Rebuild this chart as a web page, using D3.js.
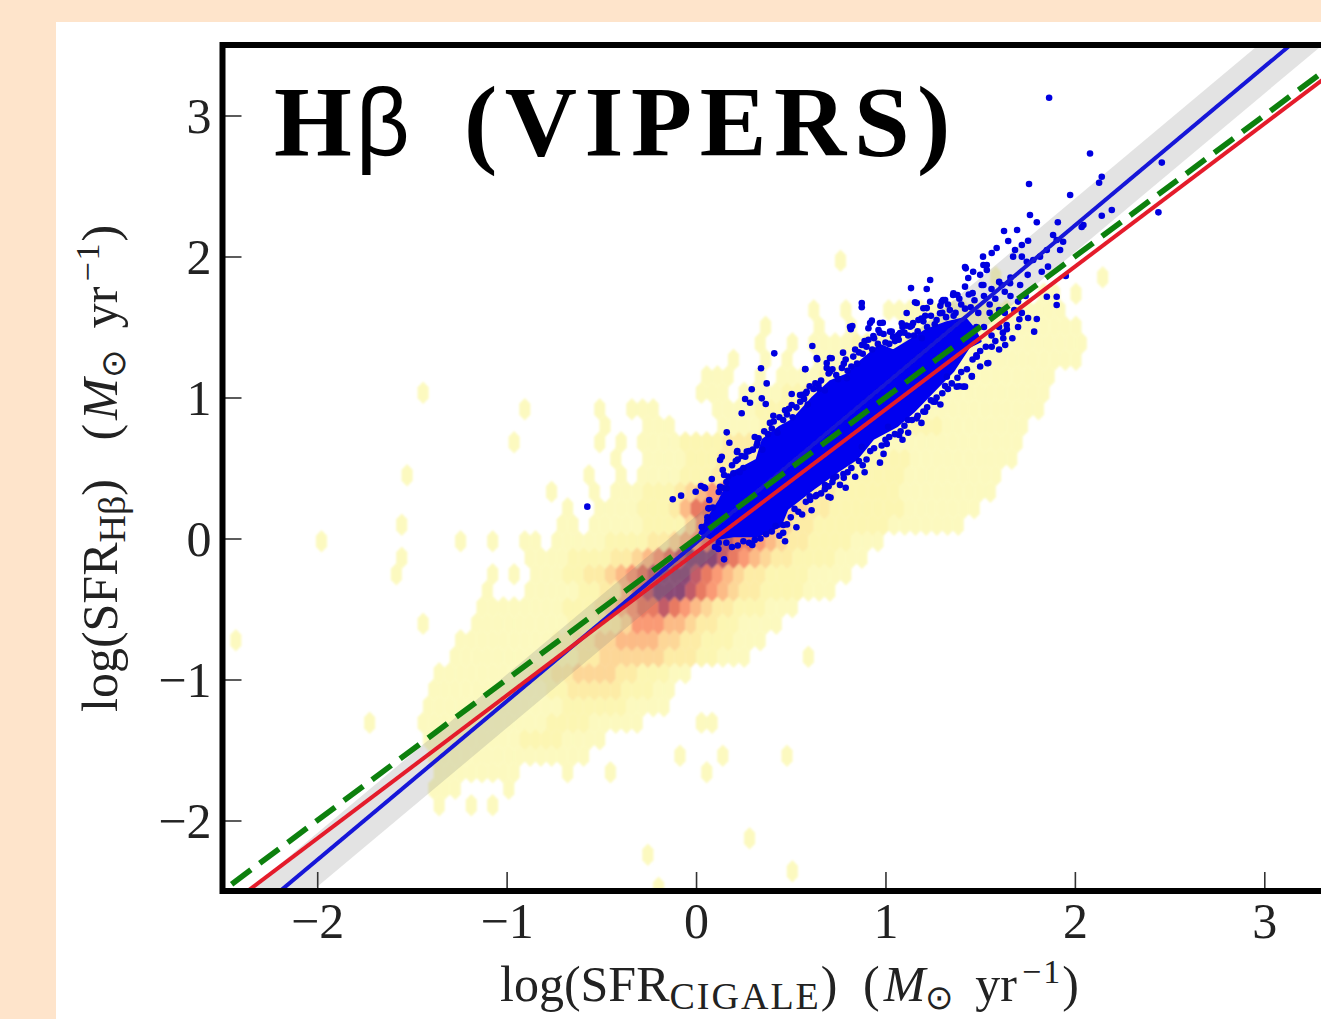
<!DOCTYPE html>
<html><head><meta charset="utf-8">
<script src="https://cdn.jsdelivr.net/npm/d3@7"></script>
<style>
html,body{margin:0;padding:0;background:#fee4cb;overflow:hidden;width:1321px;height:1019px}
svg{display:block}
text{font-family:"Liberation Serif",serif;fill:#222}
</style></head><body>
<svg id="c" width="1321" height="1019"></svg>
<script>
// ---- data (log SFR units) ----
const xTicks=[-2,-1,0,1,2,3];
const yTicks=[-2,-1,0,1,2,3];
const domainLimits=[-2.5,3.5];
const titleMain="H", titleGreek="β", titleRest="(VIPERS)";
// hexbin lattice steps in data units
const hexStepX=0.0565, hexStepY=0.117, hexOriginY=-0.02;
// density classes per hexagon: [row, first column, class per cell]
const hexRows=[
[-21,-4,"1"],[-20,9,"1"],[-19,-5,"1"],[-18,5,"1"],
[-16,-24,"1"],[-16,-21,"1"],[-16,-19,"1"],
[-15,-25,"11"],[-15,-23,"1"],[-15,-18,"1"],
[-14,-24,"11111111"],[-14,-12,"1"],[-14,-8,"1"],[-14,1,"1"],
[-13,-25,"111111111111111"],[-13,-2,"1"],[-13,2,"1"],[-13,8,"1"],
[-12,-25,"11111111122221111"],
[-11,-26,"111111111111222211111"],[-11,-31,"1"],[-11,0,"11"],
[-10,-25,"11111111111112222221111"],
[-9,-25,"11111111111223333322211"],
[-8,-24,"111111111223344443322211"],
[-7,-23,"1111111111223344444433322111"],[-7,10,"1"],
[-6,-22,"11111111122334455554433222111"],[-6,-43,"1"],
[-5,-21,"1111111112223346665543322111"],[-5,-26,"1"],[-5,7,"1"],
[-4,-20,"111111112223456778765433222111"],
[-3,-20,"1"],[-3,-16,"11111223357899987654332222111"],
[-2,-19,"1"],[-2,-17,"1"],[-2,-28,"1"],[-2,-15,"111223345678999876543322221111"],
[-1,-28,"1"],[-1,-16,"11112222334567899987654332222111"],
[0,-35,"1"],[0,-22,"1"],[0,-19,"1"],[0,-16,"1"],[0,-15,"1"],[0,-13,"1111122223345678877654332222111"],
[1,-28,"1"],[1,-13,"11"],[1,-10,"11111222246787776543322222221111111"],
[2,-12,"1"],[2,-9,"111122235776666655443322222221111111"],
[3,-14,"1"],[3,-10,"1"],[3,-8,"111222345665555443333222222111111111"],
[4,-27,"1"],[4,-10,"1"],[4,-7,"1"],[4,-5,"1111222333344443333222222111111111"],
[5,-8,"1"],[5,-5,"11112223333444433322222221111111111"],
[6,-17,"1"],[6,-9,"1"],[6,-7,"1"],[6,-5,"111122223333332222222211111111111111"],
[7,-9,"1"],[7,-5,"111"],[7,2,"11112222333332222222211111111"],
[8,-16,"1"],[8,-9,"1"],[8,-6,"111"],[8,2,"1111222333222222221111111111111"],
[9,-26,"1"],[9,0,"111"],[9,4,"11112233222222222111111111111"],
[10,1,"11"],[10,3,"1"],[10,6,"1"],[10,8,"11112222222222111111111111"],
[11,3,"1"],[11,6,"1"],[11,8,"1"],[11,11,"1111222222222111111111111"],
[12,6,"1"],[12,9,"1"],[12,11,"11112222222211111111111111"],
[13,6,"1"],[13,11,"1"],[13,14,"1"],[13,19,"11111111111111111"],
[14,11,"1"],[14,14,"1"],[14,18,"11111111111111111"],
[15,35,"1"],[15,32,"11"],[16,28,"1"],[16,38,"1"],[17,13,"1"]
];
const densityColours={1:"#fcf9bf",2:"#fcf6b2",3:"#fdeca6",4:"#fdd797",5:"#fcbb86",6:"#fa9a74",7:"#e87a62",8:"#c25b68",9:"#8a4876"};
// outline of the saturated core of the VIPERS points
const coreOutline=[[.037,.082],[.127,.273],[.195,.465],[.322,.557],[.354,.699],[.444,.791],[.512,.84],[.618,1.0],[.707,1.11],[.797,1.16],[.866,1.25],[.971,1.37],[1.04,1.33],[1.114,1.39],[1.22,1.48],[1.325,1.53],[1.42,1.56],[1.47,1.48],[1.5,1.40],[1.44,1.36],[1.357,1.19],[1.251,1.045],[1.146,.9],[1.061,.8],[.935,.71],[.85,.57],[.744,.475],[.618,.355],[.48,.21],[.444,.09],[.322,.02],[.195,.02],[.09,-.005],[.021,.039]];
const viperPoints=[
[1.864,3.126],[2.08,2.73],[2.459,2.666],[2.142,2.566],[2.128,2.523],[1.758,2.514],[1.975,2.436],[2.195,2.33],[2.142,2.289],[2.441,2.313],[1.763,2.294],[1.799,2.243],[1.91,2.243],[2.045,2.223],[2.036,2.209],[1.626,2.181],[1.695,2.188],[1.885,2.153],[1.904,2.117],[1.648,2.11],[1.753,2.112],[1.938,2.105],[1.72,2.082],[1.587,2.06],[1.684,2.046],[1.922,2.046],[1.852,2.046],[1.561,2.025],[1.674,1.999],[1.72,1.999],[1.816,1.999],[1.78,1.975],[1.746,1.963],[1.515,1.999],[1.535,1.94],[1.42,1.925],[1.463,1.892],[1.5,1.87],[1.825,1.892],[1.858,1.928],[1.751,1.87],[1.952,1.862],[1.614,1.798],[1.658,1.81],[1.711,1.798],[1.508,1.798],[1.437,1.848],[1.42,1.786],[1.236,1.833],[1.218,1.77],[1.135,1.776],[1.357,1.727],[.875,1.67],[.875,1.64],[1.852,1.715],[1.904,1.715],[1.904,1.656],[1.753,1.564],[1.799,1.557],[1.785,1.467],[1.64,1.514],[1.632,1.372],[1.543,1.245],[1.456,1.148],[1.41,1.077],[1.324,1.148],[1.253,.97],[.813,1.502],[.919,1.528],[.971,1.528],[.614,1.365],[.576,1.2],[.69,1.245],[.776,1.318],[.875,1.372],[1.112,1.599],[1.165,1.67],[1.304,1.691],[1.218,1.634],[1.024,1.467],[1.067,1.443],[1.146,1.528],[.637,1.28],[.707,1.28],
[.413,1.313],[.343,1.207],[.373,1.1],[.294,1.058],[.259,.989],[.285,.963],[.347,.994],[.368,.954],[.241,.888],[.408,.871],[.162,.753],[.176,.679],[.136,.58],[.127,.557],[.218,.62],[.268,.616],[.241,.585],[.324,.679],[.141,.486],[.148,.45],[.083,.422],[.042,.363],[.07,.273],[.065,.214],[.197,.462],[.577,1.202],[.64,1.271],[.716,1.278],[.817,1.484],[.825,1.507],[.928,1.545],[.91,1.491],[.986,1.53],[.963,1.479],[.936,1.436],[.883,1.372],[1.033,1.467],[1.077,1.457],[1.086,1.526],[1.156,1.675],[1.2,1.633],[1.236,1.679],[1.297,1.679],[1.315,1.691],[1.288,1.597],[1.359,1.739],[1.38,1.727],[1.424,1.916],[1.517,1.94],[1.535,1.904],[1.517,1.798],[1.174,1.55],[1.13,1.502],[1.192,1.42],[.505,1.025],[.505,.947],[.549,1.018],[.584,1.041],[.646,1.089],[.707,1.183],[.796,1.136],
[.699,.296],[.971,.538],[1.007,.67],[1.072,.734],[.84,.438],[.778,.457],[.725,.427],[.602,.273],[.637,.309],[.681,.379],[.461,.096],[.294,-.039],[1.165,.852],[1.209,.899],[1.262,.97],[1.376,1.077],[1.42,1.077],[1.315,1.081],[1.456,1.152],[1.538,1.243],[1.482,1.289],[1.561,1.36],[1.622,1.42],[1.707,1.555],[1.641,1.484],[.875,.651],[1.014,.793],[1.119,.84],
[-.574,.226],[-.123,.278],[-.079,.304],[-.002,.332],[.026,.372],[.048,.356],[.069,.214],[.06,.126],[.03,.082],[.118,-.074],[.148,-.148],[.297,-.046],[.216,.614],[.127,.367],[.162,.356],
[.06,.15],[.09,.22],[.12,.33],[.16,.40],[.19,.52],[.25,.50],[.28,.62],[.32,.66],[.36,.76],[.40,.78],[.44,.86],[.48,.88],[.53,.93],[.57,.99],[.60,1.08],[.65,1.06],[.70,1.17],[.74,1.16],[.78,1.24],[.82,1.22],[.86,1.32],[.90,1.36],[.94,1.42],[1.0,1.39],[1.05,1.40],[1.1,1.46],[1.15,1.44],[1.2,1.54],[1.26,1.52],[1.3,1.6],[1.36,1.58],[1.4,1.66],[1.45,1.64],
[.10,-.06],[.16,-.03],[.22,-.05],[.28,-.03],[.34,.0],[.40,.05],[.46,.04],[.5,.15],[.54,.19],[.58,.26],[.63,.3],[.68,.35],[.72,.4],[.78,.43],[.82,.5],[.88,.52],[.92,.62],[.98,.66],[1.02,.72],[1.08,.76],[1.14,.84],[1.2,.9],[1.24,.98],[1.3,1.03],[1.35,1.1],[1.4,1.18],[1.46,1.27],[1.5,1.33],
[.14,.36],[.17,.44],[.21,.55],[.23,.47],[.26,.58],[.30,.63],[.33,.71],[.35,.63],[.38,.74],[.41,.83],[.43,.75],[.46,.84],[.49,.92],[.51,.86],[.55,.97],[.58,1.03],[.59,.95],[.62,1.06],[.66,1.12],[.68,1.05],[.72,1.2],[.75,1.13],[.77,1.21],[.8,1.19],[.83,1.29],[.85,1.24],[.88,1.31],[.91,1.41],[.93,1.34],[.96,1.38],[.99,1.45],[1.02,1.38],[1.04,1.43],[1.07,1.41],[1.09,1.5],[1.12,1.44],[1.14,1.51],[1.17,1.47],[1.19,1.56],[1.22,1.5],[1.24,1.58],[1.27,1.55],[1.29,1.65],[1.32,1.57],[1.34,1.62],[1.37,1.6],[1.39,1.7],[1.42,1.63],[1.44,1.73],[1.47,1.69],[1.49,1.6],[1.52,1.72],[1.55,1.66],[1.58,1.7],[1.6,1.82],[1.63,1.75],[1.66,1.72],[1.55,1.6],[1.6,1.62],[1.63,1.6],[1.48,1.5],[1.52,1.5],
[.12,-.03],[.19,-.06],[.25,-.02],[.31,-.01],[.37,.03],[.42,.09],[.44,.02],[.48,.1],[.52,.21],[.56,.17],[.6,.3],[.66,.32],[.7,.37],[.74,.44],[.76,.38],[.8,.47],[.86,.55],[.9,.56],[.94,.64],[1.0,.7],[1.05,.74],[1.1,.8],[1.12,.75],[1.17,.87],[1.22,.93],[1.27,1.0],[1.33,1.06],[1.38,1.14],[1.43,1.2],[1.48,1.3],[1.53,1.36],[1.56,1.44],[1.58,1.4],[1.6,1.5],[1.62,1.46],
[.22,.56],[.31,.72],[.39,.82],[.47,.91],[.56,1.02],[.63,1.1],[.69,1.21],[.79,1.27],[.84,1.34],[.89,1.4],[.97,1.46],[1.11,1.51],[1.21,1.58],[1.33,1.66],[1.46,1.74],[1.56,1.77],[1.66,1.85],[1.7,1.68],[1.74,1.72],[1.68,1.62],[1.72,1.6],
[.47,-.02],[.53,.08],[.61,.2],[.71,.29],[.79,.36],[.89,.47],[.99,.6],[1.09,.7],[1.19,.82],[1.29,.95],[1.39,1.08],[1.5,1.22],[1.6,1.34],[1.67,1.42],[1.7,1.5]
];
// straight fits: [x, y] end points
const fitBlue=[[-2.6,-2.955],[3.6,4.02]];
const bandUpper=[[-2.6,-2.765],[3.6,4.21]];
const bandLower=[[-2.6,-3.145],[3.6,3.83]];
const fitRed=[[-2.6,-2.736],[3.6,3.55]];
const fitGreen=[[-2.6,-2.6],[3.6,3.6]];

// ---- drawing ----
const svg=d3.select("#c");
const x=d3.scaleLinear().domain(domainLimits).range([222.5,1359]);
const y=d3.scaleLinear().domain(domainLimits).range([891,45]);
svg.append("rect").attr("x",56).attr("y",22).attr("width",1265).attr("height",997).attr("fill","#fff");
svg.append("defs").html('<filter id="soft" x="-5%" y="-5%" width="110%" height="110%"><feGaussianBlur stdDeviation="1.1"/></filter><filter id="soft2" x="-5%" y="-5%" width="110%" height="110%"><feGaussianBlur stdDeviation="0.5"/></filter><clipPath id="plot"><rect x="223" y="45" width="1140" height="846"/></clipPath>');
const plot=svg.append("g").attr("clip-path","url(#plot)");
const cells=[];
hexRows.forEach(([k,j0,s])=>{[...s].forEach((c,i)=>cells.push({k,j:j0+i,c}));});
const hexPath=d=>{
  const cx=(d.j+(Math.abs(d.k)%2?0.5:0))*hexStepX, cy=hexOriginY+d.k*hexStepY;
  const h=hexStepY*2/3, w=hexStepX/2;
  const v=[[w,-h/2],[w,h/2],[0,h],[-w,h/2],[-w,-h/2],[0,-h]];
  return d3.line()(v.map(p=>[x(cx+p[0]),y(cy+p[1])]))+"Z";
};
plot.append("g").attr("filter","url(#soft)").selectAll("path").data(cells).join("path")
 .attr("d",hexPath).attr("fill",d=>densityColours[d.c]).attr("stroke",d=>densityColours[d.c]).attr("stroke-width",.4);
const line=d3.line().x(d=>x(d[0])).y(d=>y(d[1]));
plot.append("path").attr("d",line(bandUpper.concat(bandLower.slice().reverse()))+"Z").attr("fill","#808080").attr("fill-opacity",.22);
const pts=plot.append("g").attr("filter","url(#soft2)");
pts.append("path").attr("d",line(coreOutline)+"Z").attr("fill","#0000f0").attr("stroke","#0000f0").attr("stroke-width",3).attr("stroke-linejoin","round");
pts.selectAll("circle").data(viperPoints).join("circle").attr("cx",d=>x(d[0])).attr("cy",d=>y(d[1])).attr("r",3.3).attr("fill","#0505e0");
const lines=plot.append("g").attr("filter","url(#soft2)").attr("fill","none");
lines.append("path").attr("d",line(fitBlue)).attr("stroke","#1414d8").attr("stroke-width",4);
lines.append("path").attr("d",line(fitRed)).attr("stroke","#e41a2c").attr("stroke-width",4);
lines.append("path").attr("d",line(fitGreen)).attr("stroke","#0a800f").attr("stroke-width",5.6).attr("stroke-dasharray","24 11");

// axes
const ax=svg.append("g").attr("transform",`translate(0,${y(domainLimits[0])})`)
  .call(d3.axisBottom(x).tickValues(xTicks).tickSize(-19).tickPadding(0).tickFormat(d=>d<0?"−"+(-d):d));
const ay=svg.append("g").attr("transform",`translate(${x(domainLimits[0])},0)`)
  .call(d3.axisLeft(y).tickValues(yTicks).tickSize(-19).tickPadding(0).tickFormat(d=>d<0?"−"+(-d):d));
[ax,ay].forEach(a=>{a.select(".domain").remove();
  a.selectAll(".tick line").attr("stroke","#333").attr("stroke-width",1.6);
  a.selectAll(".tick text").attr("font-size",50).attr("fill","#2a2a2a").attr("font-family","Liberation Serif");});
ax.selectAll(".tick text").attr("y",47).attr("dy",0).attr("text-anchor","middle");
ay.selectAll(".tick text").attr("x",-11).attr("dy",17).attr("text-anchor","end");
// spines
svg.append("g").attr("stroke","#000").attr("stroke-width",6).attr("fill","none")
 .append("path").attr("d",d3.line()([[1400,y(3.5)],[x(-2.5),y(3.5)],[x(-2.5),y(-2.5)],[1400,y(-2.5)]]));

// title
const t=svg.append("text").attr("x",274).attr("y",155).attr("font-size",100).attr("font-weight","bold").style("fill","#000");
t.append("tspan").text(titleMain);
t.append("tspan").attr("font-weight","normal").attr("font-family","Liberation Sans").attr("font-size",94).attr("dx",4).text(titleGreek);
t.append("tspan").attr("dx",54).attr("letter-spacing",7.6).text(titleRest);

function label(sel,sub,gap,subSpacing){
  sel.append("tspan").text("log(SFR");
  sel.append("tspan").attr("font-size",38).attr("dy",8).attr("letter-spacing",subSpacing).text(sub);
  sel.append("tspan").attr("dy",-8).attr("letter-spacing",0).text(") ");
  sel.append("tspan").attr("dx",gap).text("(");
  sel.append("tspan").attr("font-style","italic").attr("dx",4).text("M");
  sel.append("tspan").attr("font-size",34).attr("dy",8).text("⊙");
  sel.append("tspan").attr("dy",-8).attr("dx",22).text("yr");
  sel.append("tspan").attr("font-size",34).attr("dy",-18).attr("dx",5).attr("letter-spacing",2).text("−1");
  sel.append("tspan").attr("dy",18).attr("letter-spacing",0).text(")");
}
const xl=svg.append("text").attr("x",500).attr("y",1001).attr("font-size",50).attr("fill","#2a2a2a");
label(xl,"CIGALE",13,2);
const yl=svg.append("text").attr("transform","translate(117,712) rotate(-90)").attr("font-size",50).attr("fill","#2a2a2a");
label(yl,"Hβ",26,0);
</script>
</body></html>
